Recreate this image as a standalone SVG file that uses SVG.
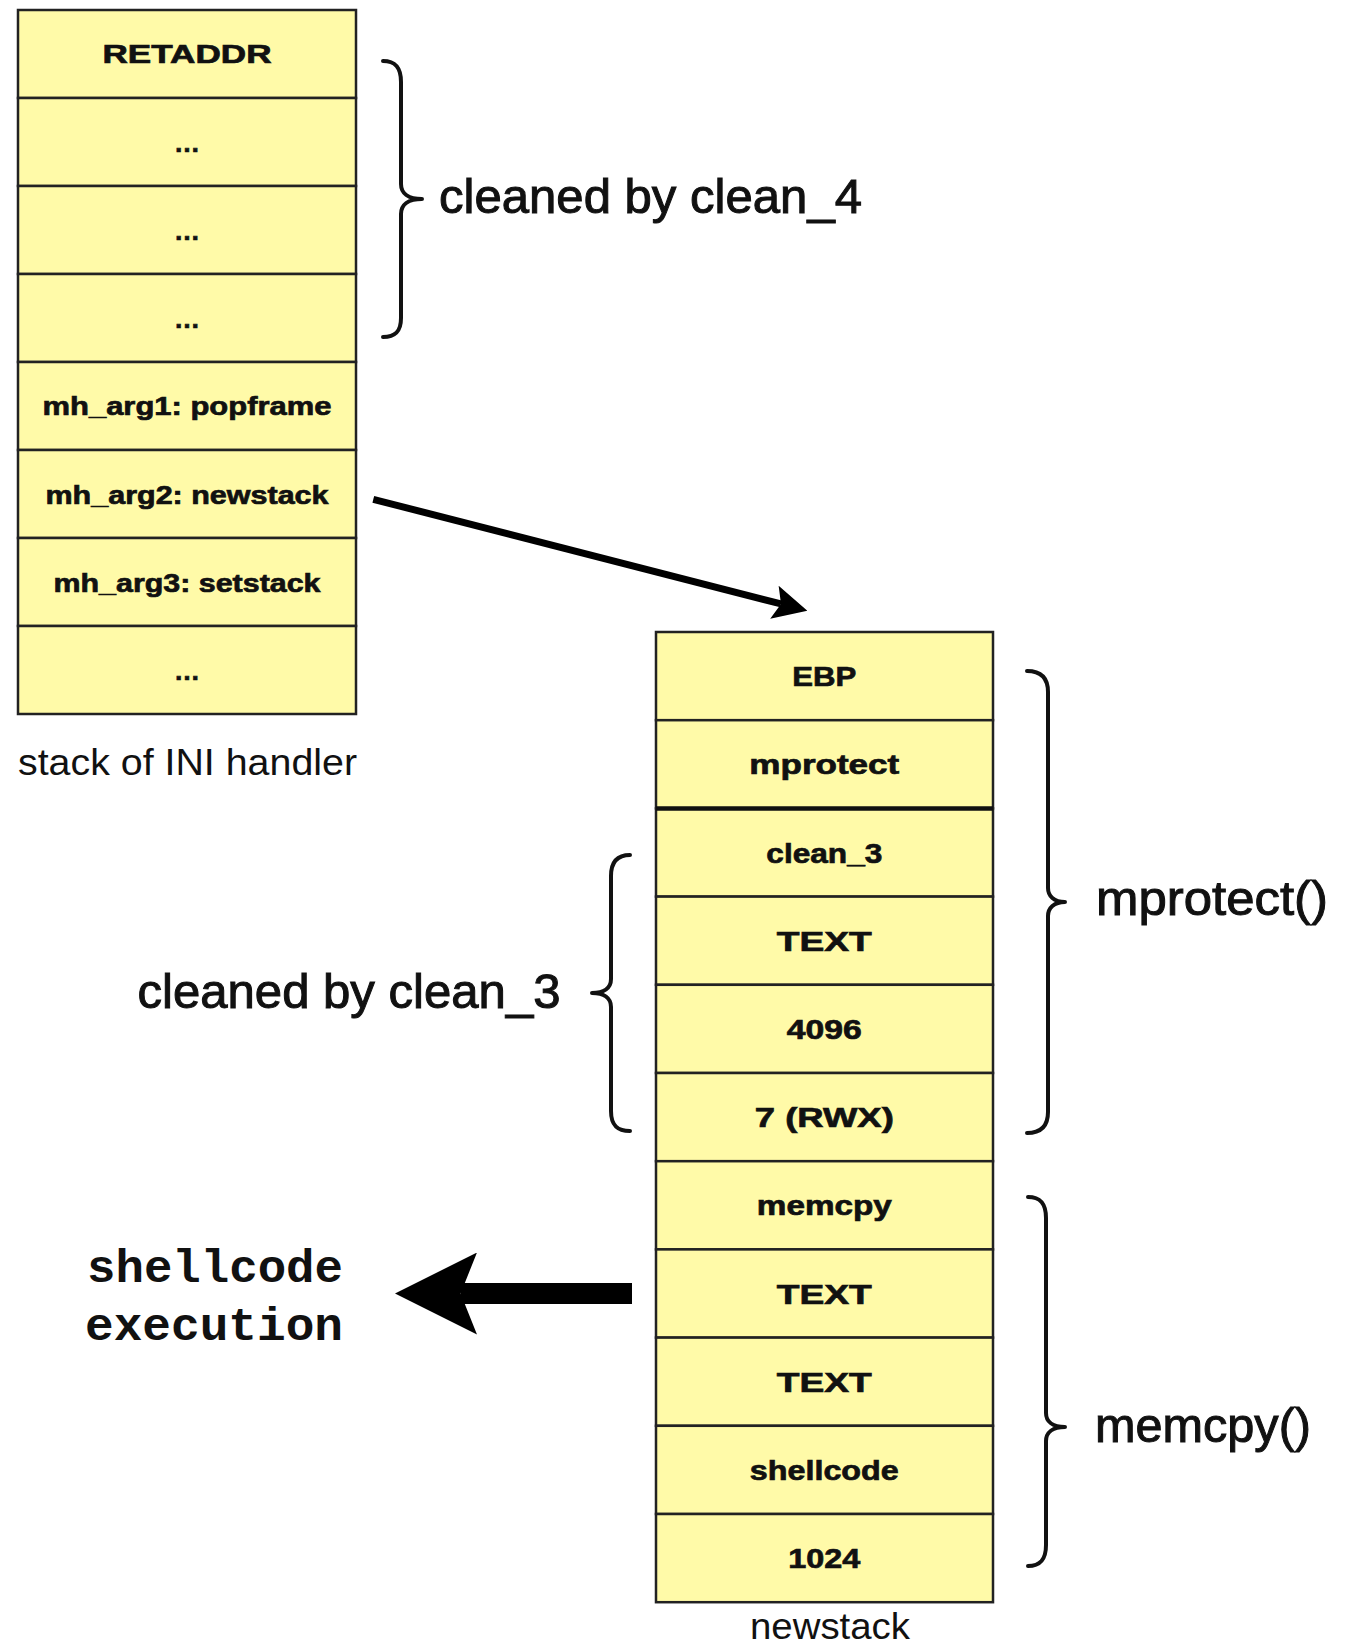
<svg xmlns="http://www.w3.org/2000/svg" width="1356" height="1645" viewBox="0 0 1356 1645">
<style>
.cell{fill:#FFFAA8;stroke:#222;stroke-width:2.5}
.ct{font-family:"Liberation Sans",Arial,sans-serif;font-weight:bold;text-anchor:middle;fill:#111;stroke:#111;stroke-width:0.7}
.l{font-size:26px}
.r{font-size:28px}
.big{font-family:"Liberation Sans",Arial,sans-serif;font-size:48px;fill:#111;stroke:#111;stroke-width:1}
.cap{font-family:"Liberation Sans",Arial,sans-serif;font-size:36px;fill:#111}
.mono{font-family:"Liberation Mono","Courier New",monospace;font-weight:bold;font-size:47px;fill:#111}
.brace{fill:none;stroke:#111;stroke-width:4;stroke-linecap:round;stroke-linejoin:round}
.shaft{stroke:#000;fill:none;stroke-linecap:butt}
</style>
<defs>
<marker id="headThin" viewBox="0 0 20 20" refX="4" refY="10" markerUnits="userSpaceOnUse" markerWidth="34" markerHeight="34" orient="auto">
<path d="M0,0 L20,10 L0,20 L4,10 z" fill="#000"/>
</marker>
<marker id="headThick" viewBox="0 0 20 20" refX="4" refY="10" markerUnits="userSpaceOnUse" markerWidth="82" markerHeight="82" orient="auto">
<path d="M0,0 L20,10 L0,20 L4,10 z" fill="#000"/>
</marker>
</defs>
<rect width="1356" height="1645" fill="#fff"/>

<g id="ini-stack">
<g id="ini-retaddr"><rect class="cell" x="18" y="10" width="338" height="88"/><text class="ct l" x="187" y="63" textLength="169" lengthAdjust="spacingAndGlyphs">RETADDR</text></g>
<g id="ini-dots1"><rect class="cell" x="18" y="98" width="338" height="88"/><text class="ct l" x="187" y="152">…</text></g>
<g id="ini-dots2"><rect class="cell" x="18" y="186" width="338" height="88"/><text class="ct l" x="187" y="240">…</text></g>
<g id="ini-dots3"><rect class="cell" x="18" y="274" width="338" height="88"/><text class="ct l" x="187" y="328">…</text></g>
<g id="ini-arg1"><rect class="cell" x="18" y="362" width="338" height="88"/><text class="ct l" x="187" y="415" textLength="289" lengthAdjust="spacingAndGlyphs">mh_arg1: popframe</text></g>
<g id="ini-arg2"><rect class="cell" x="18" y="450" width="338" height="88"/><text class="ct l" x="187" y="504" textLength="283" lengthAdjust="spacingAndGlyphs">mh_arg2: newstack</text></g>
<g id="ini-arg3"><rect class="cell" x="18" y="538" width="338" height="88"/><text class="ct l" x="187" y="592" textLength="267" lengthAdjust="spacingAndGlyphs">mh_arg3: setstack</text></g>
<g id="ini-dots4"><rect class="cell" x="18" y="626" width="338" height="88"/><text class="ct l" x="187" y="680">…</text></g>
</g>
<g id="ini-caption"><text class="cap" x="18" y="775" textLength="339" lengthAdjust="spacingAndGlyphs">stack of INI handler</text></g>

<g id="newstack">
<g id="ns-ebp"><rect class="cell" x="656" y="632" width="337" height="88.2"/><text class="ct r" x="824.3" y="686" textLength="64" lengthAdjust="spacingAndGlyphs">EBP</text></g>
<g id="ns-mprotect"><rect class="cell" x="656" y="720.2" width="337" height="88.2"/><text class="ct r" x="824.3" y="774" textLength="150" lengthAdjust="spacingAndGlyphs">mprotect</text></g>
<g id="ns-clean3"><rect class="cell" x="656" y="808.4" width="337" height="88.2"/><text class="ct r" x="824.3" y="862.5" textLength="116" lengthAdjust="spacingAndGlyphs">clean_3</text></g>
<g id="ns-text1"><rect class="cell" x="656" y="896.6" width="337" height="88.2"/><text class="ct r" x="824.3" y="951" textLength="95" lengthAdjust="spacingAndGlyphs">TEXT</text></g>
<g id="ns-4096"><rect class="cell" x="656" y="984.8" width="337" height="88.2"/><text class="ct r" x="824.3" y="1039" textLength="75" lengthAdjust="spacingAndGlyphs">4096</text></g>
<g id="ns-rwx"><rect class="cell" x="656" y="1073" width="337" height="88.2"/><text class="ct r" x="824.3" y="1127" textLength="139" lengthAdjust="spacingAndGlyphs">7 (RWX)</text></g>
<g id="ns-memcpy"><rect class="cell" x="656" y="1161.2" width="337" height="88.2"/><text class="ct r" x="824.3" y="1215" textLength="135" lengthAdjust="spacingAndGlyphs">memcpy</text></g>
<g id="ns-text2"><rect class="cell" x="656" y="1249.4" width="337" height="88.2"/><text class="ct r" x="824.3" y="1303.5" textLength="95" lengthAdjust="spacingAndGlyphs">TEXT</text></g>
<g id="ns-text3"><rect class="cell" x="656" y="1337.6" width="337" height="88.2"/><text class="ct r" x="824.3" y="1391.7" textLength="95" lengthAdjust="spacingAndGlyphs">TEXT</text></g>
<g id="ns-shellcode"><rect class="cell" x="656" y="1425.8" width="337" height="88.2"/><text class="ct r" x="824.3" y="1480" textLength="149" lengthAdjust="spacingAndGlyphs">shellcode</text></g>
<g id="ns-1024"><rect class="cell" x="656" y="1514" width="337" height="88.2"/><text class="ct r" x="824.3" y="1568" textLength="72" lengthAdjust="spacingAndGlyphs">1024</text></g>
<line x1="656" y1="808.4" x2="993" y2="808.4" stroke="#111" stroke-width="4.5"/>
</g>
<g id="newstack-caption"><text class="cap" x="750" y="1639" textLength="160" lengthAdjust="spacingAndGlyphs">newstack</text></g>

<g id="brace-clean4">
<path class="brace" d="M383,61 C395,61 401,67 401,82 L401,184 C401,193 408,199 422,199 C408,199 401,205 401,214 L401,318 C401,332 395,337 383,337"/>
<text class="big" x="439" y="213" textLength="423" lengthAdjust="spacingAndGlyphs">cleaned by clean_4</text>
</g>
<g id="brace-clean3">
<path class="brace" d="M630,855 C618,855 611,861 611,876 L611,979 C611,988 604,993 592,993 C604,993 611,998 611,1007 L611,1111 C611,1126 618,1131 630,1131"/>
<text class="big" x="137.5" y="1008" textLength="423" lengthAdjust="spacingAndGlyphs">cleaned by clean_3</text>
</g>
<g id="brace-mprotect">
<path class="brace" d="M1027,671 C1040,671 1048,677 1048,692 L1048,888 C1048,896 1054,902 1065,902 C1054,902 1048,908 1048,916 L1048,1112 C1048,1127 1040,1133 1027,1133"/>
<text class="big" x="1096" y="915" textLength="232" lengthAdjust="spacingAndGlyphs">mprotect()</text>
</g>
<g id="brace-memcpy">
<path class="brace" d="M1028,1197 C1040,1197 1046,1203 1046,1218 L1046,1413 C1046,1421 1052,1427 1065,1427 C1052,1427 1046,1433 1046,1441 L1046,1545 C1046,1560 1040,1566 1028,1566"/>
<text class="big" x="1095" y="1442" textLength="216" lengthAdjust="spacingAndGlyphs">memcpy()</text>
</g>
<g id="shellcode-exec">
<text class="mono" x="87" y="1282" textLength="256" lengthAdjust="spacingAndGlyphs">shellcode</text>
<text class="mono" x="85" y="1340" textLength="258" lengthAdjust="spacingAndGlyphs">execution</text>
</g>

<g id="connectors">
<line class="shaft" x1="373.3" y1="499.3" x2="781" y2="603.9" stroke-width="7" marker-end="url(#headThin)"/>
<line class="shaft" x1="632" y1="1293.5" x2="460.6" y2="1293.5" stroke-width="21" marker-end="url(#headThick)"/>
</g>
</svg>
